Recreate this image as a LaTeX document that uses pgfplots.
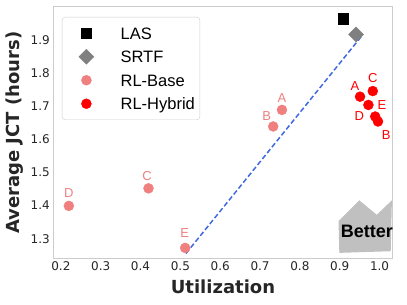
\documentclass[border=0pt]{standalone}
\usepackage{fontspec}
\setmainfont{DejaVu Sans}
\newfontfamily\arialfont{Liberation Sans}
\usepackage{pgfplots}
\pgfplotsset{compat=1.18}
\definecolor{lightcoral}{HTML}{F08080}
\definecolor{royal}{HTML}{4169E1}
\definecolor{spine}{HTML}{CCCCCC}
\definecolor{tickgray}{HTML}{262626}
\definecolor{betterfill}{HTML}{C0C0C0}
\begin{document}
\begin{tikzpicture}
\begin{axis}[
  at={(0pt,0pt)}, anchor=south west,
  scale only axis, width=339.4pt, height=251.5pt,
  xmin=0.181, xmax=1.033, ymin=1.24, ymax=2.0,
  xtick={0.2,0.3,0.4,0.5,0.6,0.7,0.8,0.9,1.0},
  ytick={1.3,1.4,1.5,1.6,1.7,1.8,1.9},
  /pgf/number format/.cd, fixed, fixed zerofill, precision=1, assume math mode=true,
  /pgfplots/.cd,
  major tick length=0pt,
  axis line style={spine, line width=1pt},
  tick label style={font=\fontsize{12}{14}\selectfont, text=tickgray},
  xlabel={Utilization},
  ylabel={Average JCT (hours)},
  label style={font=\fontsize{18}{21}\selectfont\bfseries, text=tickgray},
  xlabel style={yshift=-2pt},
  clip=false,
  legend style={at={(0,1)}, anchor=north west, xshift=8.7pt, yshift=-10pt,
    font=\arialfont\fontsize{16.5}{19}\selectfont,
    draw=spine, rounded corners=3pt, inner xsep=2pt, inner ysep=6.8pt,
    row sep=5pt, column sep=19pt,
    nodes={text height=15pt, text depth=3.5pt, inner ysep=0pt, inner xsep=3pt}},
  legend cell align=left,
  legend image code/.code={\path (0pt,0pt) (34pt,0pt); \draw[#1] plot coordinates {(22pt,0pt)};},
]
% Better arrow (decoration)
\fill[betterfill] (axis cs:0.897,1.353) -- (axis cs:0.949,1.416) -- (axis cs:0.993,1.372)
  -- (axis cs:1.031,1.416) -- (axis cs:1.028,1.262) -- (axis cs:0.899,1.257) -- cycle;
\node[font=\arialfont\fontsize{18}{21}\selectfont\bfseries, inner sep=0pt] at (axis cs:0.968,1.322) {Better};

\addplot[royal, line width=1.5pt, dash pattern=on 5pt off 2.6pt, forget plot] coordinates {(0.514,1.255) (0.957,1.915)};

\addplot[only marks, mark=square*, mark size=5.2pt, black] coordinates {(0.909,1.965)};
\addlegendentry{LAS}
\addplot[only marks, mark=square*, mark size=5.3pt, gray, mark options={rotate=45}] coordinates {(0.941,1.917)};
\addlegendentry{SRTF}
\addplot[only marks, mark=*, mark size=5pt, lightcoral] coordinates {(0.755,1.689) (0.733,1.639) (0.420,1.452) (0.220,1.399) (0.512,1.272)};
\addlegendentry{RL-Base}
\addplot[only marks, mark=*, mark size=5pt, red] coordinates {(0.951,1.729) (0.996,1.654) (0.983,1.746) (0.972,1.704) (0.989,1.669)};
\addlegendentry{RL-Hybrid}

\begin{scope}[every node/.style={font=\arialfont\fontsize{13}{15}\selectfont, inner sep=0pt, text=lightcoral}]
\node[xshift=0pt, yshift=12.3pt] at (axis cs:0.755,1.689) {A};
\node[xshift=-6.6pt, yshift=10.7pt] at (axis cs:0.733,1.639) {B};
\node[xshift=-1.5pt, yshift=12.7pt] at (axis cs:0.420,1.452) {C};
\node[xshift=0pt, yshift=13.3pt] at (axis cs:0.220,1.399) {D};
\node[xshift=-0.5pt, yshift=14.5pt] at (axis cs:0.512,1.272) {E};
\end{scope}
\begin{scope}[every node/.style={font=\arialfont\fontsize{13}{15}\selectfont, inner sep=0pt, text=red}]
\node[xshift=-5pt, yshift=11pt] at (axis cs:0.951,1.729) {A};
\node[xshift=8.3pt, yshift=-14pt] at (axis cs:0.996,1.654) {B};
\node[xshift=0pt, yshift=13pt] at (axis cs:0.983,1.746) {C};
\node[xshift=-9pt, yshift=-11pt] at (axis cs:0.972,1.704) {D};
\node[xshift=6.7pt, yshift=11.7pt] at (axis cs:0.989,1.669) {E};
\end{scope}
\end{axis}
\pgfresetboundingbox
\path[use as bounding box] (-53.3pt,-46.5pt) rectangle (353.7pt,258.5pt);
\end{tikzpicture}
\end{document}
